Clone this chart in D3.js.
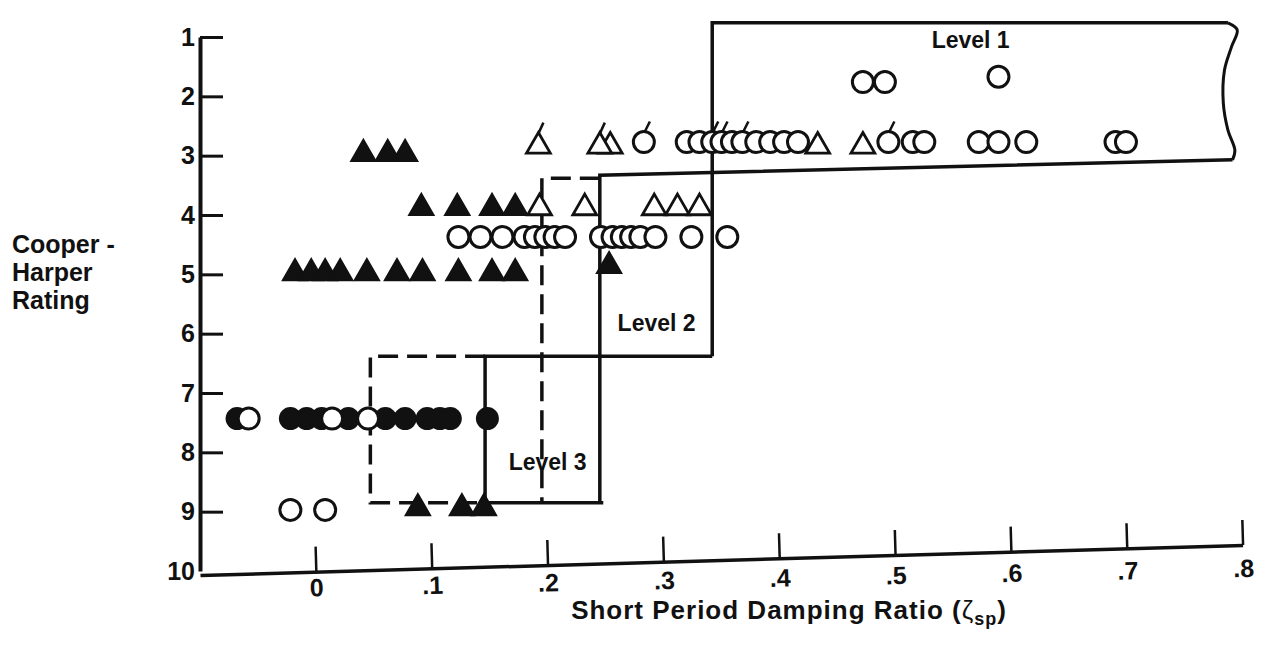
<!DOCTYPE html>
<html>
<head>
<meta charset="utf-8">
<script src="https://cdn.jsdelivr.net/npm/d3@7"></script>
<style>
  html, body { margin: 0; padding: 0; background: #fff; }
  svg { display: block; }
  text { font-family: "Liberation Sans", Arial, Helvetica, sans-serif; font-weight: bold; fill: #111; }
</style>
</head>
<body>
<svg id="chart" width="1269" height="662"></svg>
<script>
// Pilot ratings: [short period damping ratio, Cooper-Harper rating]
const openCircles = [
  [0.472, 1.76], [0.491, 1.76], [0.589, 1.67],
  [0.320, 2.77], [0.331, 2.77], [0.359, 2.77], [0.380, 2.77], [0.392, 2.77],
  [0.404, 2.77], [0.416, 2.77], [0.515, 2.77], [0.525, 2.77], [0.572, 2.77],
  [0.589, 2.77], [0.613, 2.77], [0.690, 2.77], [0.699, 2.77],
  [0.123, 4.37], [0.142, 4.37], [0.161, 4.37], [0.180, 4.37], [0.189, 4.37],
  [0.198, 4.37], [0.206, 4.37], [0.215, 4.37], [0.246, 4.37], [0.256, 4.37],
  [0.264, 4.37], [0.272, 4.37], [0.280, 4.37], [0.293, 4.37], [0.324, 4.37],
  [0.355, 4.37],
  [-0.058, 7.43], [0.014, 7.43], [0.045, 7.43],
  [-0.022, 8.97], [0.008, 8.97]
];
const flaggedCircles = [[0.283, 2.77], [0.342, 2.77], [0.350, 2.77], [0.368, 2.77], [0.494, 2.77]];
const filledCircles = [
  [-0.068, 7.43], [-0.022, 7.43], [-0.008, 7.43], [0.005, 7.43], [0.028, 7.43],
  [0.060, 7.43], [0.077, 7.43], [0.096, 7.43], [0.107, 7.43], [0.116, 7.43],
  [0.148, 7.43]
];
const openTriangles = [
  [0.254, 2.84], [0.433, 2.84], [0.472, 2.84],
  [0.193, 3.88], [0.232, 3.88], [0.292, 3.88], [0.312, 3.88], [0.331, 3.88]
];
const flaggedTriangles = [[0.192, 2.84], [0.245, 2.84]];
const filledTriangles = [
  [0.041, 2.97], [0.062, 2.97], [0.077, 2.97],
  [0.091, 3.88], [0.122, 3.88], [0.152, 3.88], [0.172, 3.88],
  [-0.018, 4.98], [-0.004, 4.98], [0.008, 4.98], [0.021, 4.98], [0.044, 4.98],
  [0.070, 4.98], [0.092, 4.98], [0.123, 4.98], [0.152, 4.98], [0.172, 4.98],
  [0.253, 4.86],
  [0.088, 8.94], [0.126, 8.94], [0.145, 8.94]
];

// Flying-qualities level boundaries
const solidBoundary = [
  [0.342, 6.38], [0.342, 0.76], [0.787, 0.76]
];
const boundaryBreak = [
  [0.787, 0.76], [0.795, 0.88], [0.790, 1.17], [0.784, 1.56], [0.783, 2.11],
  [0.787, 2.57], [0.793, 2.91], [0.791, 3.07]
];
const solidLower = [
  [0.791, 3.07], [0.245, 3.33], [0.245, 8.85], [0.248, 8.85], [0.146, 8.85],
  [0.146, 6.38], [0.342, 6.38]
];
const dashedLevel2 = [[0.245, 3.38], [0.195, 3.38], [0.195, 8.85]];
const dashedLevel3 = [[0.146, 6.38], [0.047, 6.38], [0.047, 8.85], [0.146, 8.85]];

const levelLabels = [
  { text: "Level 1", z: 0.565, r: 1.19 },
  { text: "Level 2", z: 0.294, r: 5.96 },
  { text: "Level 3", z: 0.200, r: 8.30 }
];

const xTicks = [0, 0.1, 0.2, 0.3, 0.4, 0.5, 0.6, 0.7, 0.8];
const yTicks = [1, 2, 3, 4, 5, 6, 7, 8, 9, 10];
const yTitleLines = ["Cooper -", "Harper", "Rating"];

const ink = "#111";
const svg = d3.select("#chart");

const x = d3.scaleLinear().domain([-0.1, 0.8]).range([200, 1243]);
const y = d3.scaleLinear().domain([1, 10]).range([37, 571]);

// Vertical axis: ticks point into the plot, labels on the left
const yAxis = svg.append("g")
  .attr("transform", `translate(${x(-0.1)},0)`)
  .call(d3.axisLeft(y).tickValues(yTicks).tickSizeInner(-23).tickSizeOuter(0).tickPadding(5)
    .tickFormat(d3.format("d")));
yAxis.select(".domain").attr("stroke", ink).attr("stroke-width", 4);
yAxis.selectAll(".tick line").attr("stroke", ink).attr("stroke-width", 3)
  .filter(d => d === 10).remove();
yAxis.selectAll(".tick text").attr("font-size", 25).attr("fill", ink);

// Horizontal axis, drawn with a slight tilt
const xAxis = svg.append("g")
  .attr("transform", `translate(0,575) rotate(-1.65 ${x(-0.1)} 0)`)
  .call(d3.axisBottom(x).tickValues(xTicks).tickSizeInner(-25).tickSizeOuter(0).tickPadding(6)
    .tickFormat(d => d === 0 ? "0" : "." + Math.round(d * 10)));
xAxis.select(".domain").attr("stroke", ink).attr("stroke-width", 3.5);
xAxis.selectAll(".tick line").attr("stroke", ink).attr("stroke-width", 2.5);
// labels sag a little below the tilted line toward the right
xAxis.selectAll(".tick text").attr("font-size", 25).attr("fill", ink)
  .attr("y", d => 6 + (x(d) - x(-0.1)) * 0.008);

// Level boundaries
const line = d3.line().x(d => x(d[0])).y(d => y(d[1]));
const wavy = d3.line().x(d => x(d[0])).y(d => y(d[1])).curve(d3.curveCatmullRom);
const bounds = svg.append("g").attr("fill", "none").attr("stroke", ink).attr("stroke-linejoin", "miter");
bounds.append("path").attr("d", line(solidBoundary)).attr("stroke-width", 3.5);
bounds.append("path").attr("d", wavy(boundaryBreak)).attr("stroke-width", 3);
bounds.append("path").attr("d", line(solidLower)).attr("stroke-width", 3.5);
[dashedLevel2, dashedLevel3].forEach(pts => {
  bounds.append("path").attr("d", line(pts)).attr("stroke-width", 3.5)
    .attr("stroke-dasharray", "20 9");
});

// Level labels
svg.append("g").selectAll("text").data(levelLabels).join("text")
  .attr("x", d => x(d.z)).attr("y", d => y(d.r))
  .attr("text-anchor", "middle").attr("font-size", 23)
  .text(d => d.text);

// Symbols
const marks = svg.append("g");
const R = 10.5;
const triSize = 275;
const triH = Math.sqrt(triSize * 4 / Math.sqrt(3)) * Math.sqrt(3) / 2;

marks.append("g").selectAll("path").data(filledTriangles).join("path")
  .attr("transform", d => `translate(${x(d[0])},${y(d[1])})`)
  .attr("d", d3.symbol(d3.symbolTriangle, triSize)())
  .attr("fill", ink).attr("stroke", ink).attr("stroke-width", 1.5);

marks.append("g").selectAll("circle").data(filledCircles).join("circle")
  .attr("cx", d => x(d[0])).attr("cy", d => y(d[1])).attr("r", R + 1)
  .attr("fill", ink);

const openTri = marks.append("g").selectAll("g").data(openTriangles.concat(flaggedTriangles.map(d => d.concat(["flag"]))))
  .join("g")
  .attr("transform", d => `translate(${x(d[0])},${y(d[1])})`);
openTri.append("path")
  .attr("d", d3.symbol(d3.symbolTriangle, triSize - 30)())
  .attr("fill", "#fff").attr("stroke", ink).attr("stroke-width", 2.8).attr("stroke-linejoin", "miter");
openTri.filter(d => d[2] === "flag").append("line")
  .attr("x1", 0).attr("y1", -triH * 2 / 3 + 2).attr("x2", 5).attr("y2", -triH * 2 / 3 - 9)
  .attr("stroke", ink).attr("stroke-width", 2.5);

const openCirc = marks.append("g").selectAll("g")
  .data(openCircles.concat(flaggedCircles.map(d => d.concat(["flag"]))).sort((a, b) => a[0] - b[0]))
  .join("g")
  .attr("transform", d => `translate(${x(d[0])},${y(d[1])})`);
openCirc.append("circle").attr("r", R)
  .attr("fill", "#fff").attr("stroke", ink).attr("stroke-width", 3);
openCirc.filter(d => d[2] === "flag").append("line")
  .attr("x1", 1).attr("y1", -R).attr("x2", 6).attr("y2", -R - 10)
  .attr("stroke", ink).attr("stroke-width", 2.5);

// Axis titles
svg.append("text").attr("x", 12).attr("y", 253).attr("font-size", 25)
  .selectAll("tspan").data(yTitleLines).join("tspan")
  .attr("x", 12).attr("dy", (d, i) => i === 0 ? 0 : 28).text(d => d);

const xTitle = svg.append("text").attr("x", 789).attr("y", 619)
  .attr("text-anchor", "middle").attr("font-size", 26).attr("letter-spacing", 1);
xTitle.append("tspan").text("Short Period Damping Ratio (");
xTitle.append("tspan").attr("font-weight", "normal").text("ζ");
xTitle.append("tspan").attr("font-size", 18).attr("dy", 6).text("sp");
xTitle.append("tspan").attr("dy", -6).text(")");
</script>
</body>
</html>
